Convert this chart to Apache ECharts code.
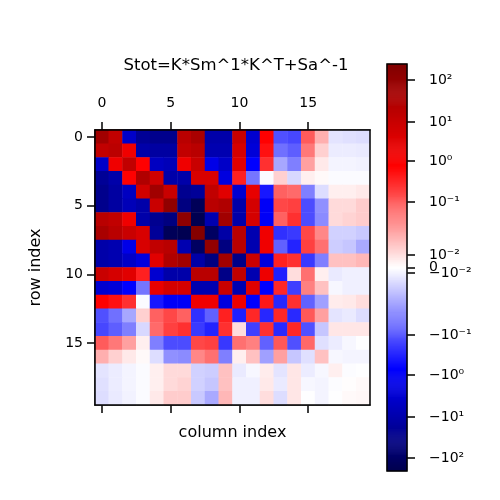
<!DOCTYPE html>
<html>
<head>
<meta charset="utf-8">
<script src="https://cdn.jsdelivr.net/npm/echarts@6/dist/echarts.min.js"></script>
<style>
  html, body { margin: 0; padding: 0; background: #fff; }
  #main { width: 500px; height: 500px; }
</style>
</head>
<body>
<div id="main"></div>
<script>
// column / row categories
const columns = Array.from({ length: 20 }, (_, i) => String(i));
const rows = Array.from({ length: 20 }, (_, i) => String(i));

// Stot matrix (row by row)
const stot = [
  [57, 14, -4.1, -20, -28, -28, 20, 40, -11, -11, 10, -3.2, 0.75, -0.115, -0.14, 0.1, 0.023, -0.012, -0.0128, -0.0135],
  [14, 18, 1.5, -11, -14, -14, 14, 20, -8.7, -8.7, 5.5, -2.5, 0.53, -0.068, -0.089, 0.06, 0.013, -0.0107, -0.0107, -0.011],
  [-4.1, 1.5, 14, 0.75, -5.2, -6.8, 1.5, 10, -1.5, -4.1, 3.2, -0.72, 0.26, -0.03, -0.054, 0.03, 0.007, -0.008, -0.008, -0.009],
  [-20, -11, 0.75, 29, 7, -11, -11, 4.7, 4.7, -2, 0.37, -0.063, -0.003, 0.013, -0.0145, 0.005, 0.002, -0.003, -0.003, -0.003],
  [-28, -14, -5.2, 7, 57, 10, -24, -19, 14, 3.2, -3.2, 2.2, -0.42, 0.09, 0.077, -0.054, -0.0135, 0.005, 0.005, 0.007],
  [-28, -14, -6.8, -11, 10, 115, -41, -145, 20, 29, -11, 5.7, -0.95, 0.155, 0.18, -0.125, -0.042, 0.011, 0.011, 0.014],
  [20, 14, 1.5, -11, -24, -41, 130, -180, -8.7, 57, -11, 5.7, -0.95, 0.09, 0.26, -0.125, -0.045, 0.011, 0.0125, 0.014],
  [40, 20, 10, 4.7, -19, -145, -180, 190, -110, -12, 20, -8.7, 1.5, -0.24, -0.19, 0.155, 0.046, -0.016, -0.016, -0.018],
  [-11, -8.7, -1.5, 4.7, 14, 20, -8.7, -110, 105, -41, 20, -8.7, 1.5, -0.085, -0.32, 0.18, 0.069, -0.017, -0.019, -0.029],
  [-11, -8.7, -4.1, -2, 3.2, 29, 57, -12, -41, 57, -32, 10, -2, 0.37, 0.26, -0.2, -0.054, 0.017, 0.017, 0.02],
  [10, 5.5, 3.2, 0.37, -3.2, -11, -11, 20, 20, -32, 14, -8.7, 1.7, -0.35, 0.0105, 0.069, 0.005, -0.011, -0.0101, -0.0101],
  [-3.2, -2.5, -0.72, -0.063, 2.2, 5.7, 5.7, -8.7, -8.7, 10, -8.7, 3.2, -0.72, 0.32, -0.17, 0.052, 0.017, -0.0054, -0.0101, -0.0101],
  [0.75, 0.53, 0.26, -0.003, -0.42, -0.95, -0.95, 1.5, 1.5, -2, 1.7, -0.72, 0.45, -0.29, 0.26, -0.085, -0.033, 0.0061, 0.007, 0.0105],
  [-0.115, -0.068, -0.03, 0.013, 0.09, 0.155, 0.09, -0.24, -0.085, 0.37, -0.35, 0.32, -0.29, 0.32, -0.28, 0.107, 0.03, -0.012, -0.011, -0.0135],
  [-0.14, -0.089, -0.054, -0.0145, 0.077, 0.18, 0.26, -0.19, -0.32, 0.26, 0.0105, -0.17, 0.26, -0.28, 0.32, -0.115, -0.019, 0.008, 0.008, 0.008],
  [0.1, 0.06, 0.03, 0.005, -0.054, -0.125, -0.125, 0.155, 0.18, -0.2, 0.069, 0.052, -0.085, 0.107, -0.115, 0.079, -0.0128, -0.0107, -0.0054, -0.001],
  [0.023, 0.013, 0.007, 0.002, -0.0135, -0.042, -0.045, 0.046, 0.069, -0.054, 0.005, 0.017, -0.033, 0.03, -0.019, -0.0128, 0.017, -0.0054, -0.008, -0.008],
  [-0.012, -0.0107, -0.008, -0.003, 0.005, 0.011, 0.011, -0.016, -0.017, 0.017, -0.011, -0.0054, 0.0061, -0.012, 0.008, -0.0107, -0.0054, 0.005, -0.002, -0.001],
  [-0.0128, -0.0107, -0.008, -0.003, 0.005, 0.011, 0.0125, -0.016, -0.019, 0.017, -0.0101, -0.0101, 0.007, -0.011, 0.008, -0.0054, -0.008, -0.002, 0.0005, 0.002],
  [-0.0135, -0.011, -0.009, -0.003, 0.007, 0.014, 0.014, -0.018, -0.029, 0.02, -0.0101, -0.0101, 0.0105, -0.0135, 0.008, -0.001, -0.008, -0.001, 0.002, 0.0025]
];

// colorbar norm: tick values (as symlog decades) and where they sit on the bar (0..1)
const cbarTickDecades = [-5, -4, -3, -2, -1, 0, 1, 2, 3, 4, 5];
const cbarTickPos = [0.032, 0.133, 0.236, 0.334, 0.486, 0.5, 0.531, 0.661, 0.762, 0.857, 0.961];
const cbarTickLabels = ['\u221210\u00b2', '\u221210\u00b9', '\u221210\u2070', '\u221210\u207b\u00b9', '\u221210\u207b\u00b2',
  '0', '10\u207b\u00b2', '10\u207b\u00b9', '10\u2070', '10\u00b9', '10\u00b2'];

const seismic = ['#00004d', '#0000ff', '#ffffff', '#ff0000', '#800000'];
const FONT = 'DejaVu Sans';

// symlog-like: |v| >= 0.01 -> log decades, linear inside
function symDecade(v) {
  const a = Math.abs(v);
  return a >= 0.01 ? Math.sign(v) * (Math.log10(a) + 3) : v * 100;
}
function toBarPos(v) {
  const d = symDecade(v);
  const n = cbarTickDecades.length;
  let k = 0;
  while (k < n - 2 && d > cbarTickDecades[k + 1]) k++;
  const f = (d - cbarTickDecades[k]) / (cbarTickDecades[k + 1] - cbarTickDecades[k]);
  const p = cbarTickPos[k] + f * (cbarTickPos[k + 1] - cbarTickPos[k]);
  return Math.max(0, Math.min(1, p));
}

const cells = [];
stot.forEach((row, i) => row.forEach((v, j) => cells.push([j, i, toBarPos(v), v])));

const NBINS = 400;
const bins = Array.from({ length: NBINS }, (_, i) => i);
const barCells = bins.map(i => [0, i, (i + 0.5) / NBINS]);

const tickStyle = { color: '#000', width: 1.5 };
const catTick = { show: true, alignWithLabel: true, interval: 4, length: 8, lineStyle: tickStyle };

const chart = echarts.init(document.getElementById('main'), null, { renderer: 'canvas' });
const option = {
  backgroundColor: '#fff',
  animation: false,
  textStyle: { fontFamily: FONT },
  title: {
    text: 'Stot=K*Sm^1*K^T+Sa^-1',
    left: 231, top: 52, textAlign: 'center',
    textStyle: { fontFamily: FONT, fontSize: 16.5, fontWeight: 'normal', color: '#000' }
  },
  grid: [
    { left: 95, top: 130, width: 275, height: 275, show: true, z: 10,
      borderColor: '#000', borderWidth: 1.5, backgroundColor: 'transparent' },
    { left: 387, top: 64, width: 20, height: 407, show: true, z: 10,
      borderColor: '#000', borderWidth: 1.5, backgroundColor: 'transparent' }
  ],
  xAxis: [
    { type: 'category', gridIndex: 0, data: columns, position: 'top',
      axisLine: { show: true, lineStyle: { color: '#000', width: 1.5 } },
      axisTick: catTick,
      axisLabel: { interval: 4, margin: 20, fontSize: 14, color: '#000', fontFamily: FONT },
      splitLine: { show: false } },
    { type: 'category', gridIndex: 0, data: columns, position: 'bottom',
      axisLine: { show: true, lineStyle: { color: '#000', width: 1.5 } },
      axisTick: catTick,
      axisLabel: { show: false },
      name: 'column index', nameLocation: 'middle', nameGap: 20,
      nameTextStyle: { fontSize: 16, color: '#000', fontFamily: FONT } },
    { type: 'category', gridIndex: 1, data: [''], show: false }
  ],
  yAxis: [
    { type: 'category', gridIndex: 0, data: rows, inverse: true,
      axisLine: { show: true, lineStyle: { color: '#000', width: 1.5 } },
      axisTick: catTick,
      axisLabel: { interval: 4, margin: 12, fontSize: 14, color: '#000', fontFamily: FONT },
      name: 'row index', nameLocation: 'middle', nameGap: 51,
      nameTextStyle: { fontSize: 16, color: '#000', fontFamily: FONT } },
    { type: 'category', gridIndex: 1, data: bins, show: false },
    { type: 'value', gridIndex: 1, min: 0, max: 1, position: 'right',
      axisLine: { show: false },
      splitLine: { show: false },
      axisTick: { show: true, customValues: cbarTickPos, length: 8, lineStyle: tickStyle },
      axisLabel: { customValues: cbarTickPos, margin: 22, fontSize: 14, color: '#000', fontFamily: FONT,
        formatter: (v) => {
          let best = 0;
          cbarTickPos.forEach((p, k) => { if (Math.abs(p - v) < Math.abs(cbarTickPos[best] - v)) best = k; });
          return cbarTickLabels[best];
        } } }
  ],
  visualMap: {
    type: 'continuous', show: false, min: 0, max: 1, dimension: 2,
    seriesIndex: [0, 1], inRange: { color: seismic }
  },
  series: [
    { type: 'heatmap', xAxisIndex: 0, yAxisIndex: 0, data: cells, progressive: 0 },
    { type: 'heatmap', xAxisIndex: 2, yAxisIndex: 1, data: barCells, progressive: 0 }
  ]
};
chart.setOption(option);
</script>
</body>
</html>
